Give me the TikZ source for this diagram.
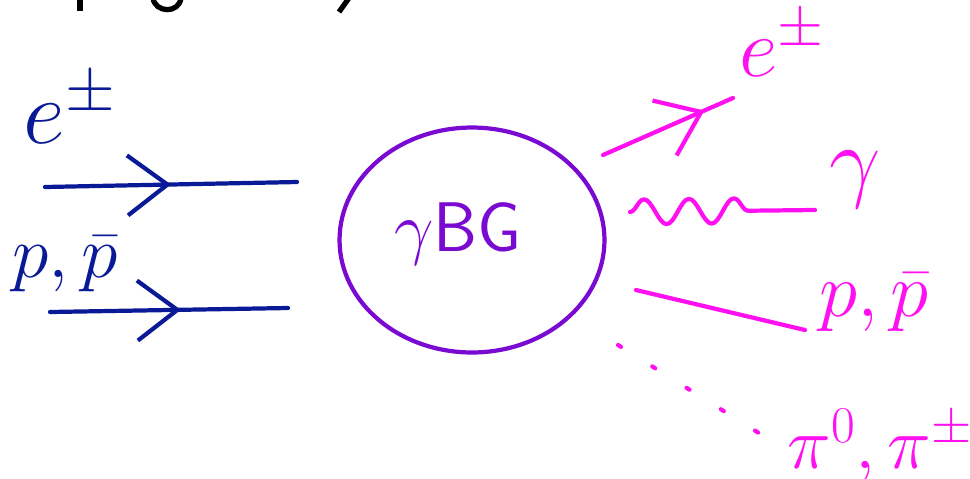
\documentclass[tikz,border=0pt]{standalone}
\usepackage{fix-cm}
\usepackage{amsmath}
\usepackage{fontspec}
\usetikzlibrary{arrows.meta,decorations.markings,decorations.pathmorphing,shapes.geometric}
\definecolor{cNavy}{HTML}{0A1A96}
\definecolor{cViolet}{HTML}{7A0AD2}
\definecolor{cMagenta}{HTML}{FF10F0}

\begin{document}
\begin{tikzpicture}[x=0.02cm,y=-0.02cm,
  pen/.style={line width=2.4pt,line cap=round,line join=round},
  lbl/.style={inner sep=0pt,font=\fontsize{42}{48}\selectfont},
  big/.style={inner sep=0pt,font=\fontsize{52}{60}\selectfont},
  stub/.style={line width=3pt,black},
  midarrow/.style={postaction={decorate},decoration={markings,
    mark=at position #1 with {\arrow{Straight Barb[length=8mm,width=12mm]}}}},
  wave/.style={decorate,decoration={snake,amplitude=2.5mm,segment length=9mm,post length=10mm}}]

\useasboundingbox (0,0) rectangle (970,478);

% heading cut off at the top edge, only its descenders show
\begin{scope}
\clip (0,0) rectangle (970,478);
\draw[stub] (80,-2) -- (80,11);
\draw[stub] (153,-2) .. controls (155,13) and (179,14) .. (181,-2);
\draw[stub] (349,-2) -- (339,12);
\end{scope}

% incoming beams
\node[big,cNavy] (inE) at (70,108) {$e^{\pm}$};
\coordinate (inEa) at (45,187);
\coordinate (inEb) at (297,182);
\draw[pen,cNavy,midarrow=0.5] (inEa) -- (inEb);

\node[lbl,cNavy] (inP) at (65,264) {$p,\bar{p}$};
\coordinate (inPa) at (50,312);
\coordinate (inPb) at (288,308);
\draw[pen,cNavy,midarrow=0.55] (inPa) -- (inPb);

% target
\node[ellipse,pen,draw=cViolet,minimum width=5.3cm,minimum height=4.5cm] (blob) at (472,240) {};
\node[lbl,cViolet,font=\fontsize{40}{48}\selectfont\sffamily] (blobtxt) at (458,234) {$\gamma$BG};

% products
\node[big,cMagenta,font=\fontsize{48}{54}\selectfont] (outE) at (782,44) {$e^{\pm}$};
\coordinate (oEa) at (603,155);
\coordinate (oEb) at (733,98);
\draw[pen,cMagenta,midarrow=0.78] (oEa) -- (oEb);

\node[big,cMagenta] (outG) at (855,180) {$\gamma$};
\coordinate (oGa) at (630,212);
\coordinate (oGb) at (815,210);
\draw[pen,cMagenta,wave] (oGa) -- (oGb);

\node[lbl,cMagenta,font=\fontsize{44}{50}\selectfont] (outP) at (874,302) {$p,\bar{p}$};
\coordinate (oPa) at (636,290);
\coordinate (oPb) at (805,330);
\draw[pen,cMagenta] (oPa) -- (oPb);

\node[lbl,cMagenta] (outPi) at (880,446) {$\pi^0,\pi^{\pm}$};
\coordinate (oXa) at (618,345);
\coordinate (oXb) at (770,440);
\draw[pen,cMagenta,dash pattern=on 2pt off 21pt] (oXa) -- (oXb);
\end{tikzpicture}
\end{document}
